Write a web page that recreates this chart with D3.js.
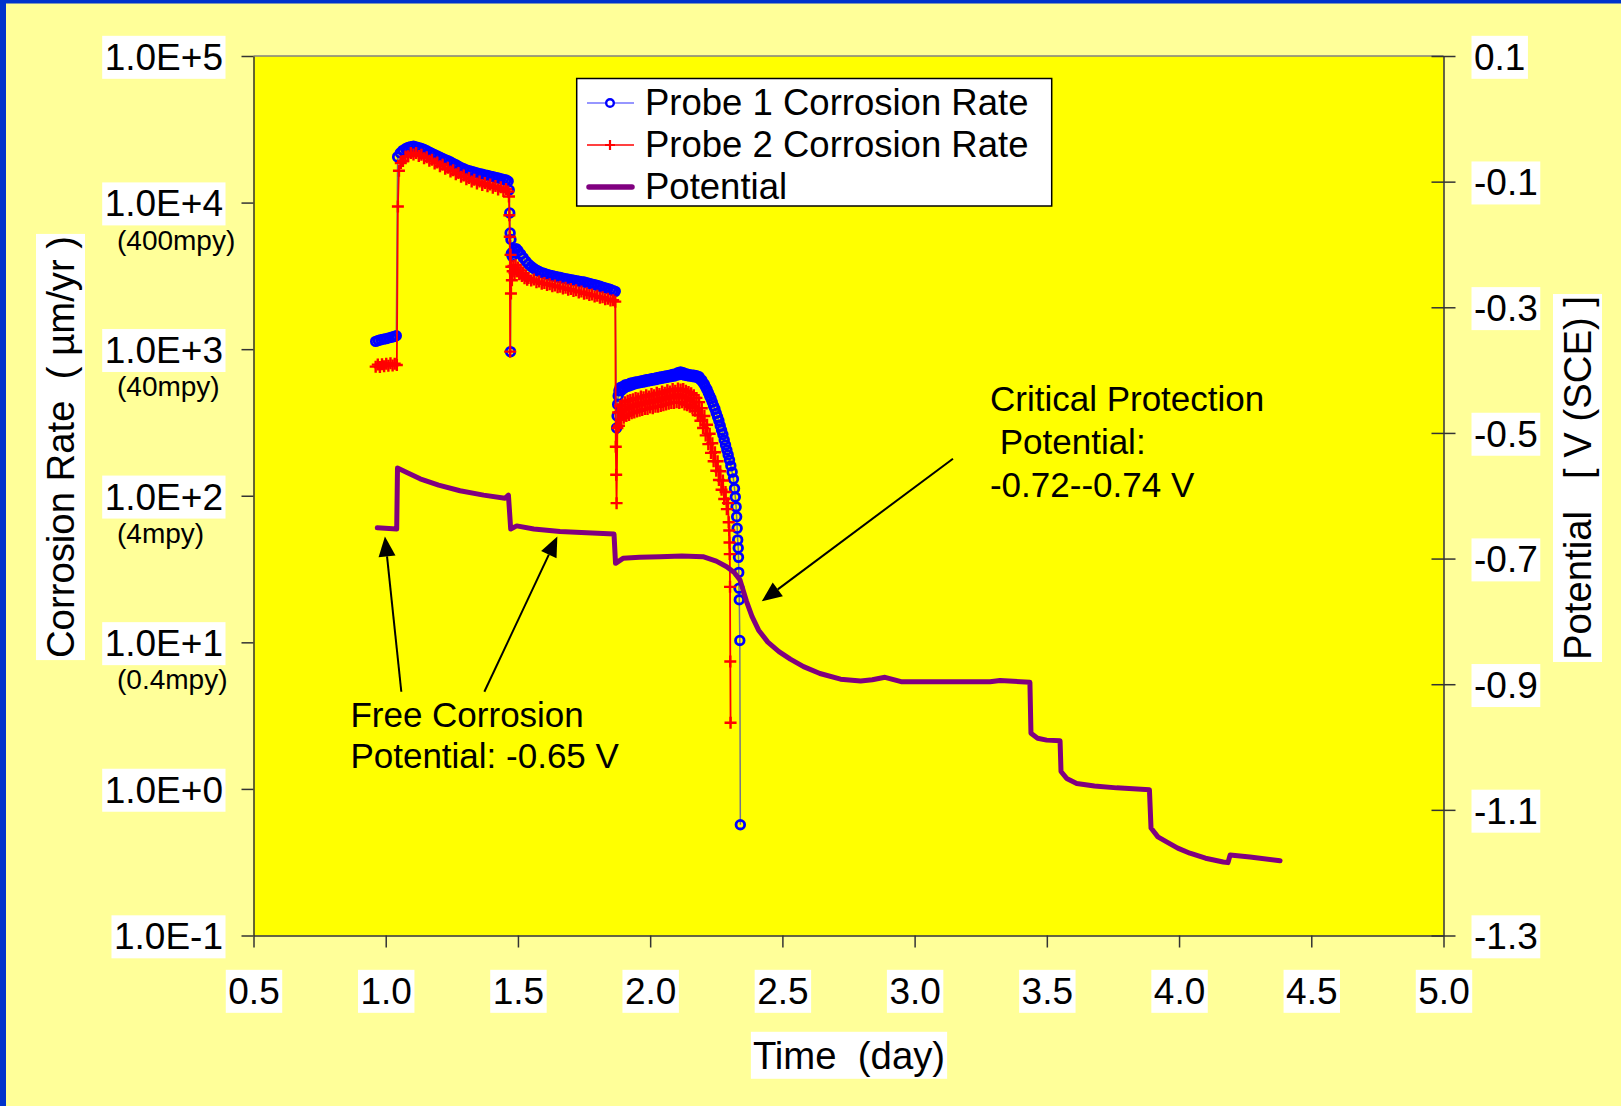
<!DOCTYPE html>
<html>
<head>
<meta charset="utf-8">
<script src="https://cdn.jsdelivr.net/npm/d3@7"></script>
<style>
  html, body { margin: 0; padding: 0; background: #FFFF99; }
  svg { display: block; }
  text { font-family: "Liberation Sans", Arial, Helvetica, sans-serif; fill: #000; }
</style>
</head>
<body>
<svg id="chart" width="1621" height="1106"></svg>
<script>
// ---- data: time in days, corrosion rate in um/yr, potential in V (SCE) ----
const probe1 = [
  [0.962,1130],[0.972,1145],[0.982,1160],[0.992,1170],[1.002,1180],[1.012,1195],[1.022,1205],[1.032,1220],[1.040,1235],
  [1.045,20500],[1.055,21800],[1.065,22700],[1.075,23300],[1.085,23800],[1.095,24100],[1.105,24200],[1.115,24000],
  [1.125,23700],[1.135,23400],[1.145,23000],[1.155,22600],[1.165,22100],[1.175,21600],[1.185,21200],[1.195,20800],
  [1.205,20400],[1.215,20000],[1.225,19600],[1.235,19300],[1.245,18900],[1.255,18500],[1.265,18100],[1.275,17700],
  [1.285,17300],[1.295,17000],[1.305,16700],[1.315,16500],[1.325,16300],[1.335,16100],[1.345,15900],[1.355,15750],
  [1.365,15600],[1.375,15450],[1.385,15300],[1.395,15150],[1.405,15000],[1.415,14850],[1.425,14700],[1.435,14550],
  [1.445,14400],[1.455,14250],[1.463,14000],
  [1.467,12200],[1.469,8500],[1.4705,6200],[1.472,962],[1.4735,5600],[1.475,4500],[1.478,4300],[1.482,4600],
  [1.487,4800],[1.493,4850],[1.50,4700],[1.51,4450],[1.52,4200],[1.53,3980],[1.54,3800],[1.55,3660],[1.56,3550],
  [1.57,3460],[1.58,3390],[1.59,3330],[1.60,3280],[1.61,3240],[1.62,3200],[1.63,3170],[1.64,3140],[1.65,3110],
  [1.66,3080],[1.67,3050],[1.68,3020],[1.69,3000],[1.70,2975],[1.71,2950],[1.72,2930],[1.73,2910],[1.74,2890],
  [1.75,2870],[1.76,2840],[1.77,2810],[1.78,2780],[1.79,2750],[1.80,2720],[1.81,2690],[1.82,2650],[1.83,2620],
  [1.84,2590],[1.85,2550],[1.86,2510],[1.868,2480],
  [1.873,290],[1.875,350],[1.877,420],[1.879,480],[1.882,520],[1.886,545],[1.89,520],[1.895,555],[1.90,540],
  [1.905,570],[1.91,555],[1.915,575],[1.92,560],[1.925,585],[1.93,570],[1.935,590],[1.94,578],[1.945,598],
  [1.95,585],[1.955,600],[1.96,590],[1.965,608],[1.97,595],[1.975,612],[1.98,600],[1.985,618],[1.99,605],
  [1.995,622],[2.00,610],[2.005,628],[2.01,615],[2.015,632],[2.02,620],[2.025,638],[2.03,625],[2.035,645],
  [2.04,630],[2.045,650],[2.05,635],[2.055,655],[2.06,640],[2.065,660],[2.07,645],[2.075,665],[2.08,650],
  [2.085,672],[2.09,655],[2.095,678],[2.10,665],[2.105,690],[2.11,670],[2.115,700],[2.12,675],[2.125,690],
  [2.13,665],[2.135,680],[2.14,660],[2.145,672],[2.15,655],[2.155,668],[2.16,650],[2.165,665],[2.17,645],
  [2.175,660],[2.18,640],[2.185,648],[2.19,620],[2.195,615],[2.20,590],[2.205,575],[2.21,550],[2.215,530],
  [2.22,505],[2.225,480],[2.23,460],[2.235,435],[2.24,410],[2.245,390],[2.25,365],[2.255,345],[2.26,325],
  [2.265,300],[2.27,280],[2.275,262],[2.28,240],[2.285,222],[2.29,205],[2.295,190],[2.30,175],[2.305,160],
  [2.31,145],[2.315,130],[2.319,112],[2.322,98],[2.325,84],[2.327,72],[2.329,60],[2.331,50],[2.333,44],
  [2.334,38],[2.335,30],[2.336,23.4],[2.337,19.5],[2.339,10.3],[2.341,0.57]
];

const probe2 = [
  [0.962,760],[0.970,785],[0.978,755],[0.986,790],[0.994,765],[1.002,795],[1.010,770],[1.018,800],[1.026,775],
  [1.034,795],[1.042,780],
  [1.046,9400],[1.050,16500],[1.057,18600],[1.065,19200],[1.075,20600],[1.085,20700],[1.095,21800],[1.105,21300],
  [1.115,21800],[1.125,20800],[1.135,21200],[1.145,20100],[1.155,20400],[1.165,19300],[1.175,19600],[1.185,18500],
  [1.195,18800],[1.205,17700],[1.215,18100],[1.225,17000],[1.235,17300],[1.245,16300],[1.255,16600],[1.265,15600],
  [1.275,15900],[1.285,15000],[1.295,15300],[1.305,14400],[1.315,14700],[1.325,13900],[1.335,14300],[1.345,13500],
  [1.355,13900],[1.365,13200],[1.375,13600],[1.385,12900],[1.395,13300],[1.405,12600],[1.415,13000],[1.425,12300],
  [1.435,12700],[1.445,12000],[1.455,12400],[1.463,11900],
  [1.466,11000],[1.4675,8200],[1.469,5850],[1.4705,962],[1.472,4400],[1.4735,2400],[1.475,3650],[1.477,2950],
  [1.480,3400],[1.483,3700],[1.487,3300],[1.491,3750],[1.495,3400],[1.50,3600],[1.505,3250],[1.51,3450],
  [1.515,3150],[1.52,3300],[1.525,3050],[1.53,3150],[1.535,2980],[1.54,3060],[1.55,2940],[1.56,2990],[1.57,2860],
  [1.58,2900],[1.59,2790],[1.60,2830],[1.61,2740],[1.62,2770],[1.63,2690],[1.64,2720],[1.65,2640],[1.66,2670],
  [1.67,2590],[1.68,2620],[1.69,2540],[1.70,2570],[1.71,2490],[1.72,2520],[1.73,2440],[1.74,2470],[1.75,2390],
  [1.76,2410],[1.77,2340],[1.78,2360],[1.79,2290],[1.80,2310],[1.81,2240],[1.82,2260],[1.83,2190],[1.84,2210],
  [1.85,2150],[1.86,2160],[1.868,2110],
  [1.870,216],[1.8715,139],[1.873,89],
  [1.876,290],[1.879,370],[1.882,300],[1.886,410],[1.89,330],[1.895,420],[1.90,340],[1.905,435],[1.91,350],
  [1.915,445],[1.92,355],[1.925,450],[1.93,365],[1.935,455],[1.94,370],[1.945,465],[1.95,375],[1.955,460],
  [1.96,380],[1.965,475],[1.97,385],[1.975,470],[1.98,390],[1.985,485],[1.99,390],[1.995,475],[2.00,400],
  [2.005,495],[2.01,395],[2.015,485],[2.02,405],[2.025,505],[2.03,405],[2.035,495],[2.04,410],[2.045,515],
  [2.05,415],[2.055,505],[2.06,420],[2.065,525],[2.07,425],[2.075,515],[2.08,430],[2.085,535],[2.09,430],
  [2.095,520],[2.10,435],[2.105,540],[2.11,430],[2.115,530],[2.12,435],[2.125,535],[2.13,420],[2.135,520],
  [2.14,415],[2.145,510],[2.15,405],[2.155,500],[2.16,395],[2.165,485],[2.17,380],[2.175,465],[2.18,355],
  [2.185,435],[2.19,325],[2.195,395],[2.20,290],[2.205,350],[2.21,258],[2.215,305],[2.22,225],[2.225,265],
  [2.23,196],[2.235,228],[2.24,172],[2.245,198],[2.25,148],[2.255,172],[2.26,128],[2.265,147],[2.27,110],
  [2.275,127],[2.28,95],[2.285,106],[2.29,81],[2.294,89],[2.297,66],[2.299,58],[2.300,48],[2.301,40],
  [2.302,23.9],[2.303,7.4],[2.304,2.83]
];

const potential = [
  [0.968,-0.651],[1.0415,-0.653],[1.0445,-0.556],[1.08,-0.563],[1.13,-0.573],[1.20,-0.583],[1.281,-0.592],
  [1.37,-0.599],[1.451,-0.604],[1.464,-0.599],[1.4726,-0.653],[1.4953,-0.648],[1.56,-0.653],[1.659,-0.657],
  [1.76,-0.659],[1.8633,-0.661],[1.869,-0.7076],[1.8973,-0.6996],[1.96,-0.698],[2.037,-0.697],[2.12,-0.696],
  [2.1998,-0.697],[2.25,-0.704],[2.2894,-0.713],[2.318,-0.722],[2.3397,-0.734],[2.3643,-0.768],[2.385,-0.792],
  [2.41,-0.814],[2.445,-0.833],[2.487,-0.848],[2.53,-0.860],[2.58,-0.872],[2.642,-0.883],[2.72,-0.892],
  [2.796,-0.895],[2.84,-0.893],[2.888,-0.889],[2.949,-0.896],[3.10,-0.896],[3.285,-0.896],[3.323,-0.894],
  [3.436,-0.897],[3.440,-0.978],[3.465,-0.986],[3.4995,-0.989],[3.55,-0.99],[3.5536,-1.039],[3.575,-1.050],
  [3.613,-1.058],[3.68,-1.062],[3.764,-1.065],[3.888,-1.068],[3.894,-1.129],[3.92,-1.143],[3.953,-1.151],
  [3.995,-1.161],[4.041,-1.169],[4.10,-1.177],[4.167,-1.183],[4.185,-1.184],[4.193,-1.172],[4.268,-1.175],
  [4.382,-1.181]
];

const timeTicks = [0.5,1.0,1.5,2.0,2.5,3.0,3.5,4.0,4.5,5.0];
const timeTickLabels = ["0.5","1.0","1.5","2.0","2.5","3.0","3.5","4.0","4.5","5.0"];
const rateTicks = [0.1,1,10,100,1000,10000,100000];
const rateTickLabels = ["1.0E-1","1.0E+0","1.0E+1","1.0E+2","1.0E+3","1.0E+4","1.0E+5"];
const mpyRates = [10,100,1000,10000];
const mpyLabels = ["(0.4mpy)","(4mpy)","(40mpy)","(400mpy)"];
const potTicks = [0.1,-0.1,-0.3,-0.5,-0.7,-0.9,-1.1,-1.3];
const potTickLabels = ["0.1","-0.1","-0.3","-0.5","-0.7","-0.9","-1.1","-1.3"];
const seriesNames = ["Probe 1 Corrosion Rate","Probe 2 Corrosion Rate","Potential"];

// ---- layout ----
const W = 1621, H = 1106;
const plot = { left: 253.5, right: 1443.5, top: 56, bottom: 935.5 };
const FONT = 37, TITLE_FONT = 38.3, NOTE_FONT = 35, LEGEND_FONT = 36.5;
const BLUE = "#0000FF", RED = "#FF0000", PURPLE = "#800080";

const svg = d3.select("#chart");
svg.append("rect").attr("width", W).attr("height", H).attr("fill", "#FFFF99");
svg.append("rect").attr("x", 0).attr("y", 0).attr("width", W).attr("height", 3.5).attr("fill", "#0033CC");
svg.append("rect").attr("x", 0).attr("y", 0).attr("width", 6).attr("height", H).attr("fill", "#0033CC");

const x = d3.scaleLinear().domain([0.5, 5]).range([plot.left, plot.right]);
const yRate = d3.scaleLog().domain([0.1, 1e5]).range([plot.bottom, plot.top]);
const yPot = d3.scaleLinear().domain([-1.3, 0.1]).range([plot.bottom, plot.top]);

// plot area
svg.append("rect")
  .attr("x", plot.left).attr("y", plot.top)
  .attr("width", plot.right - plot.left).attr("height", plot.bottom - plot.top)
  .attr("fill", "#FFFF00");
svg.append("line")
  .attr("x1", plot.left).attr("x2", plot.right).attr("y1", plot.top).attr("y2", plot.top)
  .attr("stroke", "#808080").attr("stroke-width", 1.5);

// white label boxes behind text nodes
function whiteBoxes(sel, padX, padY) {
  sel.each(function () {
    const b = this.getBBox();
    const r = document.createElementNS("http://www.w3.org/2000/svg", "rect");
    this.parentNode.insertBefore(r, this);
    d3.select(r)
      .attr("x", b.x - padX).attr("y", b.y - padY)
      .attr("width", b.width + 2 * padX).attr("height", b.height + 2 * padY)
      .attr("fill", "#FFFFFF")
      .attr("transform", this.getAttribute("transform"));
  });
}

function styleAxis(g) {
  g.attr("font-size", FONT).attr("font-family", "'Liberation Sans', Arial, sans-serif");
  g.select(".domain").attr("stroke", "#333").attr("stroke-width", 1.5);
  g.selectAll(".tick line").attr("stroke", "#333").attr("stroke-width", 1.5);
  g.selectAll(".tick text").attr("fill", "#000");
}

// left axis: corrosion rate
const gLeft = svg.append("g").attr("transform", `translate(${plot.left},0)`)
  .call(d3.axisLeft(yRate).tickValues(rateTicks)
    .tickFormat((d, i) => rateTickLabels[i]).tickSize(12).tickSizeOuter(0).tickPadding(18.5));
styleAxis(gLeft);
gLeft.selectAll(".tick text").attr("dy", "0.36em");

// right axis: potential
const gRight = svg.append("g").attr("transform", `translate(${plot.right},0)`)
  .call(d3.axisRight(yPot).tickValues(potTicks)
    .tickFormat((d, i) => potTickLabels[i]).tickSize(12).tickSizeOuter(0).tickPadding(18.5));
styleAxis(gRight);
gRight.selectAll(".tick line").attr("x1", -12).attr("x2", 12);
gRight.selectAll(".tick text").attr("dy", "0.36em");

// bottom axis: time
const gBottom = svg.append("g").attr("transform", `translate(0,${plot.bottom})`)
  .call(d3.axisBottom(x).tickValues(timeTicks)
    .tickFormat((d, i) => timeTickLabels[i]).tickSize(12).tickSizeOuter(0));
styleAxis(gBottom);
gBottom.selectAll(".tick text").attr("y", 55).attr("dy", "0.36em");

[gLeft, gRight, gBottom].forEach(g => whiteBoxes(g.selectAll(".tick text"), 2.5, 1));

// mpy notes under the decade labels
svg.append("g").selectAll("text").data(mpyRates).join("text")
  .attr("x", 117).attr("y", (d) => yRate(d) + 37)
  .attr("dy", "0.36em").attr("font-size", 28)
  .text((d, i) => mpyLabels[i]);

// axis titles
const titleL = svg.append("text")
  .attr("transform", "translate(60.5,447) rotate(-90)")
  .attr("text-anchor", "middle").attr("dominant-baseline", "central")
  .attr("font-size", TITLE_FONT).style("white-space", "pre")
  .text("Corrosion Rate  ( \u00b5m/yr )");
const titleR = svg.append("text")
  .attr("transform", "translate(1577.5,478) rotate(-90)")
  .attr("text-anchor", "middle").attr("dominant-baseline", "central")
  .attr("font-size", TITLE_FONT).style("white-space", "pre")
  .text("Potential   [ V (SCE) ]");
const titleB = svg.append("text")
  .attr("x", 849).attr("y", 1055).attr("dy", "0.36em")
  .attr("text-anchor", "middle").attr("font-size", TITLE_FONT).style("white-space", "pre")
  .text("Time  (day)");
whiteBoxes(titleL, 2, 3);
whiteBoxes(titleR, 2, 3);
whiteBoxes(titleB, 2, 2);

// ---- series ----
const rateLine = d3.line().x(d => x(d[0])).y(d => yRate(d[1]));
const potLine = d3.line().x(d => x(d[0])).y(d => yPot(d[1]));
const plusPath = "M-6,0H6M0,-6V6";

const g1 = svg.append("g");
g1.append("path").attr("d", rateLine(probe1))
  .attr("fill", "none").attr("stroke", BLUE).attr("stroke-opacity", 0.55).attr("stroke-width", 1.5);
g1.selectAll("circle").data(probe1).join("circle")
  .attr("cx", d => x(d[0])).attr("cy", d => yRate(d[1])).attr("r", 4.3)
  .attr("fill", "none").attr("stroke", BLUE).attr("stroke-width", 2.8);

const g2 = svg.append("g");
g2.append("path").attr("d", rateLine(probe2))
  .attr("fill", "none").attr("stroke", RED).attr("stroke-width", 1.8);
g2.selectAll("path.mk").data(probe2).join("path").attr("class", "mk")
  .attr("d", plusPath)
  .attr("transform", d => `translate(${x(d[0])},${yRate(d[1])})`)
  .attr("stroke", RED).attr("stroke-width", 2.4).attr("fill", "none");

svg.append("path").attr("d", potLine(potential))
  .attr("fill", "none").attr("stroke", PURPLE).attr("stroke-width", 5)
  .attr("stroke-linejoin", "round").attr("stroke-linecap", "round");

// ---- annotations ----
function arrow(t0, p0, t1, p1) {
  const x0 = x(t0), y0 = yPot(p0), x1 = x(t1), y1 = yPot(p1);
  const len = Math.hypot(x1 - x0, y1 - y0);
  const ux = (x1 - x0) / len, uy = (y1 - y0) / len;
  const head = 20, half = 8.5;
  const bx = x1 - ux * head, by = y1 - uy * head;
  svg.append("line").attr("x1", x0).attr("y1", y0).attr("x2", bx).attr("y2", by)
    .attr("stroke", "#000").attr("stroke-width", 2);
  svg.append("polygon")
    .attr("points", [[x1, y1], [bx - uy * half, by + ux * half], [bx + uy * half, by - ux * half]].map(p => p.join(",")).join(" "))
    .attr("fill", "#000");
}
arrow(1.059, -0.912, 0.997, -0.665);
arrow(1.373, -0.912, 1.649, -0.665);
arrow(3.145, -0.541, 2.422, -0.768);

function note(t, p, lines, lineGap) {
  const tx = svg.append("text").attr("x", x(t)).attr("y", yPot(p))
    .attr("font-size", NOTE_FONT).style("white-space", "pre");
  lines.forEach((s, i) => {
    tx.append("tspan").attr("x", x(t)).attr("dy", i === 0 ? 0 : lineGap).text(s);
  });
}
note(0.8664, -0.9676, ["Free Corrosion", "Potential: -0.65 V"], 41.6);
note(3.285, -0.465, ["Critical Protection", " Potential:", "-0.72--0.74 V"], 43);

// ---- legend ----
const lg = svg.append("g");
lg.append("rect").attr("x", 576.7).attr("y", 78.5).attr("width", 475).attr("height", 127.5)
  .attr("fill", "#FFFFFF").attr("stroke", "#000").attr("stroke-width", 1.5);
const rows = [103, 145, 187];
rows.forEach((ry, i) => {
  if (i === 0) {
    lg.append("line").attr("x1", 587).attr("x2", 634).attr("y1", ry).attr("y2", ry)
      .attr("stroke", BLUE).attr("stroke-opacity", 0.55).attr("stroke-width", 1.5);
    lg.append("circle").attr("cx", 610).attr("cy", ry).attr("r", 3.8)
      .attr("fill", "#fff").attr("stroke", BLUE).attr("stroke-width", 2.4);
  } else if (i === 1) {
    lg.append("line").attr("x1", 587).attr("x2", 634).attr("y1", ry).attr("y2", ry)
      .attr("stroke", RED).attr("stroke-width", 1.5);
    lg.append("path").attr("d", "M-5,0H5M0,-5V5").attr("transform", `translate(610,${ry})`)
      .attr("stroke", RED).attr("stroke-width", 2.2);
  } else {
    lg.append("line").attr("x1", 589).attr("x2", 632).attr("y1", ry).attr("y2", ry)
      .attr("stroke", PURPLE).attr("stroke-width", 5.5).attr("stroke-linecap", "round");
  }
  lg.append("text").attr("x", 645).attr("y", ry + 11.5).attr("font-size", LEGEND_FONT).text(seriesNames[i]);
});
</script>
</body>
</html>
